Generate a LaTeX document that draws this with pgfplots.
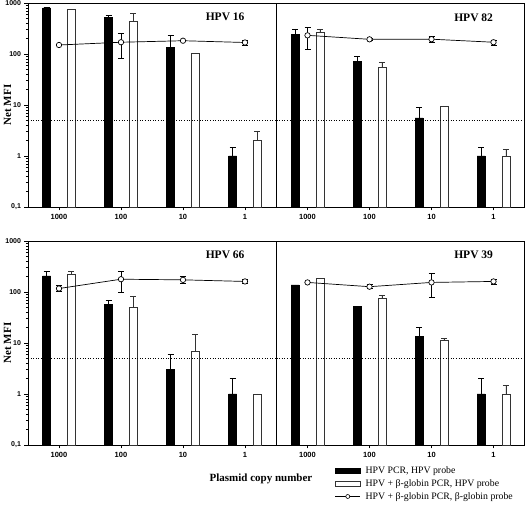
\documentclass[border=0pt]{standalone}
\usepackage{fontspec}
\setmainfont{Liberation Serif}
\newfontfamily\ticksf{Liberation Sans}
\usepackage{pgfplots}
\pgfplotsset{compat=1.18}
\tikzset{ptitle/.style={font=\bfseries\fontsize{11.5}{12}\selectfont, anchor=east}}
\begin{document}
\begin{tikzpicture}
\useasboundingbox (0,0) rectangle (528pt,505pt);

% ---------------- HPV 16 ----------------
\begin{axis}[at={(28pt,298pt)}, anchor=south west,
    width=248pt, height=204pt, scale only axis,
    ymode=log, ymin=0.1, ymax=1000, xmin=-0.5, xmax=3.5,
    log origin=infty,
    axis line style={line width=0.8pt},
    xtick={0,1,2,3}, xticklabels={1000,100,10,1},
    xtick pos=bottom, ytick pos=left,
    tick align=outside,
    major tick length=3.5pt, minor tick length=2pt,
    tick style={black, line width=0.6pt},
    xticklabel style={font=\ticksf\bfseries\fontsize{7.5}{8}\selectfont},
    yticklabel style={font=\ticksf\bfseries\fontsize{7}{8}\selectfont},
    ytick={0.1,1,10,100,1000},
    yticklabels={{0,1},1,10,100,1000},
    ylabel={Net MFI},
    ylabel style={at={(axis description cs:-0.082,0.5)}, anchor=center, font=\bfseries\fontsize{11}{12}\selectfont},
    clip=false]
\addplot[ybar, bar width=8pt, bar shift=0pt, fill=black, draw=black,
   error bars/.cd, y dir=plus, y explicit, error bar style={black, line width=0.7pt},
   error mark options={rotate=90, mark size=3pt, black, line width=0.7pt}]
 table[x=x, y=y, y error plus=e] {
x y e
-0.2 800 30
0.8 520 40
1.8 135 100
2.8 1 0.5
};
\addplot[ybar, bar width=8pt, bar shift=0pt, fill=white, draw=black!80,
   error bars/.cd, y dir=plus, y explicit, error bar style={black!80, line width=0.7pt},
   error mark options={rotate=90, mark size=3pt, black!80, line width=0.7pt}]
 table[x=x, y=y, y error plus=e] {
x y e
0.2 750 0
1.2 440 190
2.2 105 0
3.2 2 1.1
};
\addplot[black, line width=0.7pt, mark=*, mark size=2.7pt, mark options={fill=white, draw=black},
   error bars/.cd, y dir=both, y explicit, error bar style={black, line width=0.7pt},
   error mark options={rotate=90, mark size=3pt, black, line width=0.7pt}]
 table[x=x, y=y, y error plus=ep, y error minus=em] {
x y ep em
0 150 0 0
1 170 87 87
2 182 0 0
3 168 20 20
};
\addplot[black, dotted, line width=0.6pt] coordinates {(-0.5,5) (3.5,5)};
\node[ptitle] at (rel axis cs:0.887,0.93) {HPV 16};
\end{axis}

% ---------------- HPV 82 ----------------
\begin{axis}[at={(276.5pt,298pt)}, anchor=south west,
    width=248pt, height=204pt, scale only axis,
    ymode=log, ymin=0.1, ymax=1000, xmin=-0.5, xmax=3.5,
    log origin=infty,
    axis line style={line width=0.8pt},
    xtick={0,1,2,3}, xticklabels={1000,100,10,1},
    xtick pos=bottom,
    tick align=outside,
    major tick length=3.5pt,
    tick style={black, line width=0.6pt},
    xticklabel style={font=\ticksf\bfseries\fontsize{7.5}{8}\selectfont},
    ymajorticks=false, yminorticks=false,
    clip=false]
\addplot[ybar, bar width=8pt, bar shift=0pt, fill=black, draw=black,
   error bars/.cd, y dir=plus, y explicit, error bar style={black, line width=0.7pt},
   error mark options={rotate=90, mark size=3pt, black, line width=0.7pt}]
 table[x=x, y=y, y error plus=e] {
x y e
-0.2 245 65
0.8 72 17
1.8 5.6 3.5
2.8 1 0.5
};
\addplot[ybar, bar width=8pt, bar shift=0pt, fill=white, draw=black!80,
   error bars/.cd, y dir=plus, y explicit, error bar style={black!80, line width=0.7pt},
   error mark options={rotate=90, mark size=3pt, black!80, line width=0.7pt}]
 table[x=x, y=y, y error plus=e] {
x y e
0.2 270 40
1.2 55 15
2.2 9.3 0.3
3.2 1 0.37
};
\addplot[black, line width=0.7pt, mark=*, mark size=2.7pt, mark options={fill=white, draw=black},
   error bars/.cd, y dir=both, y explicit, error bar style={black, line width=0.7pt},
   error mark options={rotate=90, mark size=3pt, black, line width=0.7pt}]
 table[x=x, y=y, y error plus=ep, y error minus=em] {
x y ep em
0 232 98 107
1 194 12 12
2 195 27 23
3 170 15 22
};
\addplot[black, dotted, line width=0.6pt] coordinates {(-0.5,5) (3.5,5)};
\node[ptitle] at (rel axis cs:0.887,0.93) {HPV 82};
\end{axis}

% ---------------- HPV 66 ----------------
\begin{axis}[at={(28pt,60pt)}, anchor=south west,
    width=248pt, height=204pt, scale only axis,
    ymode=log, ymin=0.1, ymax=1000, xmin=-0.5, xmax=3.5,
    log origin=infty,
    axis line style={line width=0.8pt},
    xtick={0,1,2,3}, xticklabels={1000,100,10,1},
    xtick pos=bottom, ytick pos=left,
    tick align=outside,
    major tick length=3.5pt, minor tick length=2pt,
    tick style={black, line width=0.6pt},
    xticklabel style={font=\ticksf\bfseries\fontsize{7.5}{8}\selectfont},
    yticklabel style={font=\ticksf\bfseries\fontsize{7}{8}\selectfont},
    ytick={0.1,1,10,100,1000},
    yticklabels={{0,1},1,10,100,1000},
    ylabel={Net MFI},
    ylabel style={at={(axis description cs:-0.082,0.5)}, anchor=center, font=\bfseries\fontsize{11}{12}\selectfont},
    clip=false]
\addplot[ybar, bar width=8pt, bar shift=0pt, fill=black, draw=black,
   error bars/.cd, y dir=plus, y explicit, error bar style={black, line width=0.7pt},
   error mark options={rotate=90, mark size=3pt, black, line width=0.7pt}]
 table[x=x, y=y, y error plus=e] {
x y e
-0.2 208 44
0.8 58 11
1.8 3 2.9
2.8 1 1
};
\addplot[ybar, bar width=8pt, bar shift=0pt, fill=white, draw=black!80,
   error bars/.cd, y dir=plus, y explicit, error bar style={black!80, line width=0.7pt},
   error mark options={rotate=90, mark size=3pt, black!80, line width=0.7pt}]
 table[x=x, y=y, y error plus=e] {
x y e
0.2 220 30
1.2 51 30
2.2 7 8
3.2 1 0
};
\addplot[black, line width=0.7pt, mark=*, mark size=2.7pt, mark options={fill=white, draw=black},
   error bars/.cd, y dir=both, y explicit, error bar style={black, line width=0.7pt},
   error mark options={rotate=90, mark size=3pt, black, line width=0.7pt}]
 table[x=x, y=y, y error plus=ep, y error minus=em] {
x y ep em
0 117 18 14
1 178 74 80
2 173 31 28
3 161 17 16
};
\addplot[black, dotted, line width=0.6pt] coordinates {(-0.5,5) (3.5,5)};
\node[ptitle] at (rel axis cs:0.887,0.93) {HPV 66};
\end{axis}

% ---------------- HPV 39 ----------------
\begin{axis}[at={(276.5pt,60pt)}, anchor=south west,
    width=248pt, height=204pt, scale only axis,
    ymode=log, ymin=0.1, ymax=1000, xmin=-0.5, xmax=3.5,
    log origin=infty,
    axis line style={line width=0.8pt},
    xtick={0,1,2,3}, xticklabels={1000,100,10,1},
    xtick pos=bottom,
    tick align=outside,
    major tick length=3.5pt,
    tick style={black, line width=0.6pt},
    xticklabel style={font=\ticksf\bfseries\fontsize{7.5}{8}\selectfont},
    ymajorticks=false, yminorticks=false,
    clip=false,
    legend style={at={(rel axis cs:0.235,-0.1)}, anchor=north west, draw=none, fill=none,
      font=\fontsize{9.8}{11}\selectfont, inner sep=0pt, row sep=2.5pt,
      nodes={inner sep=1pt},
      /tikz/every odd column/.append style={column sep=4pt}},
    legend cell align=left]
\addplot[ybar, bar width=8pt, bar shift=0pt, fill=black, draw=black,
   legend image code/.code={\draw[black, fill=black] (0pt,-2.5pt) rectangle (25pt,2.5pt);},
   error bars/.cd, y dir=plus, y explicit, error bar style={black, line width=0.7pt},
   error mark options={rotate=90, mark size=3pt, black, line width=0.7pt}]
 table[x=x, y=y, y error plus=e] {
x y e
-0.2 138 0
0.8 53 0
1.8 13.5 6.5
2.8 1 1
};
\addplot[ybar, bar width=8pt, bar shift=0pt, fill=white, draw=black!80,
   legend image code/.code={\draw[black!80, fill=white, line width=0.6pt] (0pt,-2.5pt) rectangle (25pt,2.5pt);},
   error bars/.cd, y dir=plus, y explicit, error bar style={black!80, line width=0.7pt},
   error mark options={rotate=90, mark size=3pt, black!80, line width=0.7pt}]
 table[x=x, y=y, y error plus=e] {
x y e
0.2 184 0
1.2 76 11
2.2 11.3 1
3.2 1 0.46
};
\addplot[black, line width=0.7pt, mark=*, mark size=2.7pt, mark options={fill=white, draw=black},
   legend image code/.code={\draw[black, line width=0.6pt] (0pt,0pt) -- (25pt,0pt);
     \draw[black, fill=white, line width=0.6pt] (12.5pt,0pt) circle (2pt);},
   error bars/.cd, y dir=both, y explicit, error bar style={black, line width=0.7pt},
   error mark options={rotate=90, mark size=3pt, black, line width=0.7pt}]
 table[x=x, y=y, y error plus=ep, y error minus=em] {
x y ep em
0 154 0 0
1 127 14 11
2 154 74 77
3 161 15 18
};
\addplot[black, dotted, line width=0.6pt, forget plot] coordinates {(-0.5,5) (3.5,5)};
\node[ptitle] at (rel axis cs:0.887,0.93) {HPV 39};
\legend{{HPV PCR, HPV probe}, {HPV + β-globin PCR, HPV probe}, {HPV + β-globin PCR, β-globin probe}}
\end{axis}

\node[font=\bfseries\fontsize{11}{12}\selectfont] at (261pt,26pt) {Plasmid copy number};
\end{tikzpicture}
\end{document}
